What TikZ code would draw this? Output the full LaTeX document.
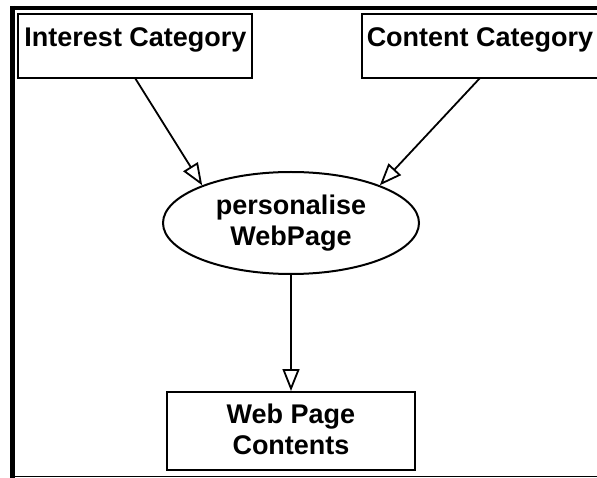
\documentclass[tikz,border=0pt]{standalone}
\usepackage{fontspec}
\setmainfont{Liberation Sans}
\usetikzlibrary{shapes.geometric,arrows.meta}
\begin{document}
\begin{tikzpicture}[x=1pt,y=1pt,
  lbl/.style={font=\fontsize{27}{31}\selectfont\bfseries, inner sep=0pt, align=center},
  boxnode/.style={draw, line width=2pt, rectangle, inner sep=0pt},
  procnode/.style={draw, line width=2pt, ellipse, inner sep=0pt, minimum width=256, minimum height=102},
  flow/.style={line width=1.8pt, -{Triangle[length=22pt,width=17pt,fill=white,line width=1.8pt]}}
]
\useasboundingbox (0,0) rectangle (597,-478);
\begin{scope}
\clip (0,0) rectangle (597,-478);
% frame
\draw[line width=4.5pt] (12.5,-6) -- (12.5,-477.5);
\draw[line width=3.5pt] (10,-8) -- (597,-8);
\draw[line width=1.2pt] (10,-476.8) -- (597,-476.8);
% nodes
\node[boxnode, minimum width=234, minimum height=64] (ic) at (135,-46) {};
\node[lbl] (ict) at (135.5,-39.5) {Interest Category};
\node[boxnode, minimum width=238, minimum height=64] (cc) at (481,-46) {};
\node[lbl] (cct) at (480,-39.5) {Content Category};
\node[procnode, lbl, draw, line width=2pt] (pw) at (291,-223) {personalise\\WebPage};
\node[boxnode, minimum width=248, minimum height=78] (wp) at (291,-431) {};
\node[lbl] (wpt) at (291,-429) {Web Page\\Contents};
% connectors
\draw[flow] (135,-78) -- (pw.157);
\draw[flow] (480,-78) -- (pw.23);
\draw[flow] (pw.south) -- (wp.north);
\end{scope}
\end{tikzpicture}
\end{document}
